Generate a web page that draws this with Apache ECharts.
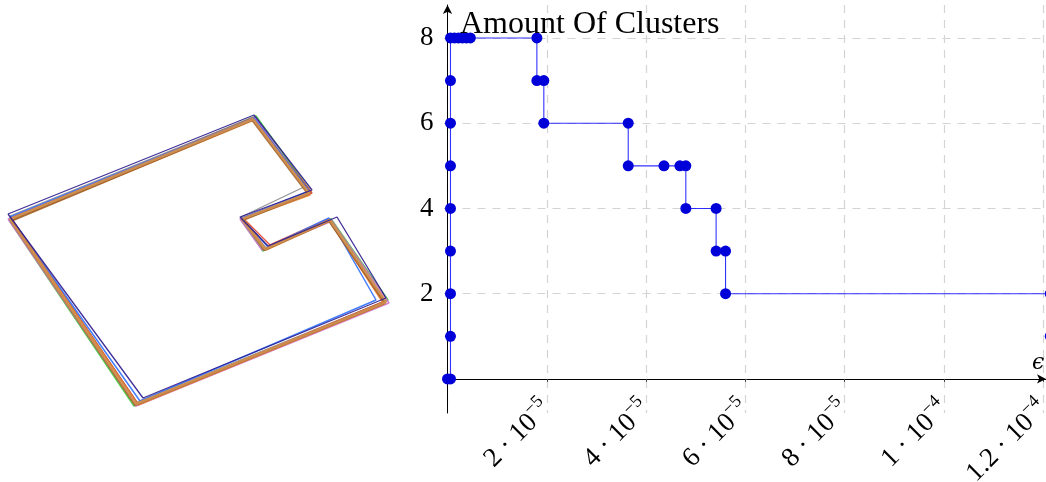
<!DOCTYPE html>
<html>
<head>
<meta charset="utf-8">
<script src="https://cdn.jsdelivr.net/npm/echarts@6/dist/echarts.min.js"></script>
<style>html,body{margin:0;padding:0;background:#fff}#c{width:1046px;height:482px}</style>
</head>
<body>
<div id="c"></div>
<script>
// ---- step chart data (epsilon vs amount of clusters) ----
const epsValues = [0, 0.6e-6, 0.6e-6, 0.6e-6, 0.6e-6, 0.6e-6, 0.6e-6, 0.6e-6, 0.6e-6,
  0.6e-6, 1.4e-6, 2.2e-6, 3.0e-6, 3.8e-6, 4.6e-6,
  1.80e-5, 1.80e-5, 1.94e-5, 1.94e-5,
  3.64e-5, 3.64e-5, 4.36e-5, 4.68e-5, 4.80e-5, 4.80e-5,
  5.41e-5, 5.41e-5, 5.60e-5, 5.60e-5,
  1.214e-4, 1.214e-4];
const clusterCounts = [0, 0, 1, 2, 3, 4, 5, 6, 7,
  8, 8, 8, 8, 8, 8,
  8, 7, 7, 6,
  6, 5, 5, 5, 5, 4,
  4, 3, 3, 2,
  2, 1];
const xTickValues = [0, 2e-5, 4e-5, 6e-5, 8e-5, 1e-4, 1.2e-4];
const xTickMantissa = ['', '2', '4', '6', '8', '1', '1.2'];
const xTickExponent = ['', '−5', '−5', '−5', '−5', '−4', '−4'];
const yTickValues = [0, 2, 4, 6, 8];
const yLabelValues = [2, 4, 6, 8];

// ---- left picture: overlapping room outlines (pixel-like coordinates) ----
const outlineGreen   = [[9,220],[256,116],[311,192],[241,220],[263,251],[331,219],[388,300],[134,406],[9,220]];
const outlineMagenta = [[8,219],[255,117],[310,194],[240,219],[262,250],[332,221],[389,303],[136,406],[8,219]];
const outlineGray    = [[10,216],[251,118],[306,186],[241,217],[266,248],[331,219],[385,301],[137,402],[10,216]];
const outlineRed     = [[11,218],[253,118],[312,193],[243,218],[270,245],[328,219],[383,302],[138,404],[11,218]];
const outlineBlue    = [[10,217],[254,118],[309,191],[242,218],[268,247],[329,218],[376,300],[140,401],[10,217]];
const outlineOrange  = [[12,220],[254,120],[310,195],[244,219],[266,250],[330,221],[384,304],[138,405],[12,220]];
const outlineBrown   = [[11,221],[252,120],[308,194],[243,220],[264,250],[329,221],[385,303],[135,405],[11,221]];
const outlineTan     = [[10,219],[253,119],[309,193],[242,219],[265,249],[330,220],[386,302],[136,404],[10,219]];
const outlineNavy    = [[8,214],[254,115],[312,190],[240,217],[268,246],[337,217],[386,298],[143,398],[8,214]];

const outlines = [
  [outlineGreen, '#3cc83c', 1.6],
  [outlineMagenta, '#d070d0', 1.4],
  [outlineGray, '#8a8a8a', 1.3],
  [outlineRed, '#e0402a', 1.4],
  [outlineBlue, '#2f6fff', 1.5],
  [outlineOrange, '#e08030', 1.8],
  [outlineBrown, '#a0602a', 2.0],
  [outlineTan, '#cf9050', 2.6],
  [outlineNavy, '#2e1a8c', 1.3]
];

const serif = 'Liberation Serif';
const chart = echarts.init(document.getElementById('c'), null, {renderer: 'canvas'});

const stepData = epsValues.map((x, i) => [x, clusterCounts[i]]);

const series = outlines.map(([pts, color, w]) => ({
  type: 'line', xAxisIndex: 1, yAxisIndex: 1, data: pts,
  showSymbol: false, symbol: 'none', silent: true, clip: false,
  lineStyle: {color: color, width: w, opacity: 0.9}
}));
series.push({
  type: 'line', xAxisIndex: 0, yAxisIndex: 0, data: stepData,
  symbol: 'circle', symbolSize: 11, showAllSymbol: true, clip: false,
  lineStyle: {color: '#0000ff', width: 1.1, opacity: 0.8},
  itemStyle: {color: '#0000d8'}
});

chart.setOption({
  animation: false,
  title: [
    {text: 'Amount Of Clusters', left: 455, top: 4, textStyle: {fontFamily: serif, fontSize: 32, fontWeight: 'normal', color: '#000'}},
    {text: 'ϵ', left: 1027, top: 347, textStyle: {fontFamily: 'DejaVu Serif', fontStyle: 'italic', fontSize: 22, fontWeight: 'normal', color: '#000'}}
  ],
  grid: [
    {left: 447.5, right: 0, top: 5, bottom: 69, outerBoundsMode: 'none', containLabel: false},
    {left: 0, top: 0, width: 400, height: 482, outerBoundsMode: 'none', containLabel: false}
  ],
  xAxis: [
    {
      type: 'value', gridIndex: 0, min: 0, max: 1.2054e-4,
      axisLine: {onZero: true, lineStyle: {color: '#000', width: 1}, symbol: ['none', 'arrow'], symbolSize: [7, 9]},
      axisTick: {show: true, length: 3, inside: false, customValues: xTickValues, lineStyle: {color: '#444'}},
      axisLabel: {
        customValues: xTickValues.slice(1), rotate: 45, margin: -8,
        fontFamily: serif, fontSize: 27, color: '#000',
        formatter: function (v) {
          let k = 0, best = 1;
          xTickValues.forEach((t, j) => { const d = Math.abs(t - v); if (d < best) { best = d; k = j; } });
          return '{m|' + xTickMantissa[k] + ' · 10}{e|' + xTickExponent[k] + '}';
        },
        rich: {
          m: {fontFamily: serif, fontSize: 27, color: '#000', lineHeight: 36},
          e: {fontFamily: serif, fontSize: 18, color: '#000', lineHeight: 18, verticalAlign: 'top'}
        }
      },
      splitLine: {show: true, lineStyle: {color: '#d4d4d4', width: 1.2, type: [8, 7]}}
    },
    {type: 'value', gridIndex: 1, min: 0, max: 400, show: false}
  ],
  yAxis: [
    {
      type: 'value', gridIndex: 0, min: -0.8, max: 8.774,
      axisLine: {show: true, onZero: true, lineStyle: {color: '#000', width: 1}, symbol: ['none', 'arrow'], symbolSize: [7, 9]},
      axisTick: {show: true, length: 3, customValues: yTickValues, lineStyle: {color: '#888'}},
      axisLabel: {customValues: yLabelValues, margin: 14, fontFamily: serif, fontSize: 27, color: '#000'},
      splitLine: {show: true, lineStyle: {color: '#d4d4d4', width: 1.2, type: [8, 7]}}
    },
    {type: 'value', gridIndex: 1, min: 0, max: 482, inverse: true, show: false}
  ],
  series: series
});
</script>
</body>
</html>
